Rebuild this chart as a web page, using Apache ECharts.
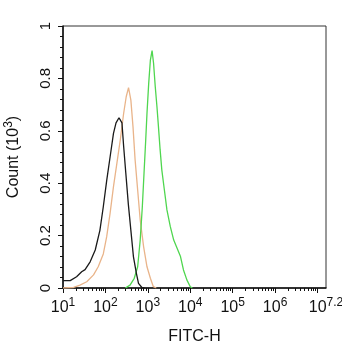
<!DOCTYPE html>
<html>
<head>
<meta charset="utf-8">
<script src="https://cdn.jsdelivr.net/npm/echarts@6/dist/echarts.min.js"></script>
<style>
  html, body { margin: 0; padding: 0; background: #ffffff; }
  #chart { width: 342px; height: 350px; }
</style>
</head>
<body>
<div id="chart"></div>
<script>
// x values are log10(FITC-H), y values are count (10^3)
var blackExp = [1.0, 1.17, 1.32, 1.44, 1.52, 1.64, 1.76, 1.87, 1.95, 2.03, 2.11, 2.19, 2.25, 2.32, 2.39, 2.43, 2.48, 2.54, 2.60, 2.66, 2.73, 2.78, 2.86, 2.92];
var blackCount = [0.028, 0.028, 0.043, 0.062, 0.07, 0.10, 0.145, 0.22, 0.31, 0.41, 0.50, 0.59, 0.63, 0.65, 0.63, 0.54, 0.44, 0.32, 0.22, 0.12, 0.056, 0.018, 0.002, 0];

var orangeExp = [1.0, 1.25, 1.40, 1.56, 1.72, 1.83, 1.95, 2.03, 2.11, 2.19, 2.27, 2.35, 2.43, 2.49, 2.545, 2.60, 2.65, 2.70, 2.76, 2.82, 2.90, 2.98, 3.06, 3.13, 3.2];
var orangeCount = [0, 0.002, 0.011, 0.024, 0.05, 0.081, 0.13, 0.196, 0.285, 0.387, 0.476, 0.565, 0.667, 0.73, 0.765, 0.717, 0.616, 0.489, 0.374, 0.26, 0.158, 0.081, 0.037, 0.005, 0];

var greenExp = [2.47, 2.58, 2.68, 2.76, 2.82, 2.87, 2.91, 2.95, 2.98, 3.02, 3.06, 3.10, 3.135, 3.175, 3.215, 3.25, 3.29, 3.33, 3.39, 3.45, 3.53, 3.61, 3.69, 3.77, 3.84, 3.92, 4.0, 4.05];
var greenCount = [0, 0.011, 0.037, 0.081, 0.183, 0.31, 0.438, 0.565, 0.667, 0.78, 0.87, 0.906, 0.858, 0.768, 0.692, 0.616, 0.527, 0.45, 0.374, 0.298, 0.234, 0.183, 0.152, 0.12, 0.069, 0.031, 0.005, 0];

var majorTicks = [1, 2, 3, 4, 5, 6, 7];
var labelTicks = [1, 2, 3, 4, 5, 6, 7.2];
var minorTicks = [];
for (var d = 1; d <= 7; d++) {
  for (var k = 2; k <= 9; k++) {
    var v = d + Math.log10(k);
    if (v < 7.2) minorTicks.push(v);
  }
}

function pairs(xs, ys) {
  return xs.map(function (x, i) { return [x, ys[i]]; });
}

var font = 'Liberation Sans';
var chart = echarts.init(document.getElementById('chart'));
chart.setOption({
  animation: false,
  grid: {
    left: 63, top: 26, right: 16, bottom: 62,
    outerBoundsMode: 'none',
    show: true, borderColor: '#333', borderWidth: 1
  },
  xAxis: [
    {
      type: 'value', min: 1, max: 7.2,
      name: 'FITC-H', nameLocation: 'middle', nameGap: 41,
      nameTextStyle: { fontFamily: font, fontSize: 16, color: '#111' },
      axisLine: { show: true, lineStyle: { color: '#111', width: 1.5 } },
      axisTick: { show: true, length: 5, lineStyle: { color: '#111' }, customValues: majorTicks },
      axisLabel: {
        customValues: labelTicks, margin: 9,
        fontFamily: font, fontSize: 16, color: '#111',
        formatter: function (v) { return '{b|10}{s|' + (Math.round(v * 10) / 10) + '}'; },
        rich: {
          b: { fontFamily: font, fontSize: 16, color: '#111', lineHeight: 19, verticalAlign: 'bottom' },
          s: { fontFamily: font, fontSize: 12, color: '#111', lineHeight: 19, verticalAlign: 'top' }
        }
      },
      splitLine: { show: false }
    },
    {
      type: 'value', min: 1, max: 7.2, gridIndex: 0, position: 'bottom',
      axisLine: { show: false },
      axisTick: { show: true, length: 3, lineStyle: { color: '#111' }, customValues: minorTicks },
      axisLabel: { show: false },
      splitLine: { show: false }
    }
  ],
  yAxis: {
    type: 'value', min: 0, max: 1, interval: 0.2,
    name: 'Count (10{s|3})', nameLocation: 'middle', nameGap: 38, nameRotate: 90,
    nameTextStyle: {
      fontFamily: font, fontSize: 16, color: '#111',
      rich: {
        s: { fontFamily: font, fontSize: 12, color: '#111', padding: [0, 0, 10, 0] }
      }
    },
    axisLine: { show: true, lineStyle: { color: '#111', width: 1.5 } },
    axisTick: { show: true, length: 5, lineStyle: { color: '#111' } },
    minorTick: { show: true, splitNumber: 5, length: 3, lineStyle: { color: '#111' } },
    axisLabel: { rotate: 90, margin: 10, fontFamily: font, fontSize: 15, color: '#111' },
    splitLine: { show: false }
  },
  series: [
    {
      name: 'control', type: 'line', data: pairs(blackExp, blackCount),
      showSymbol: false, lineStyle: { color: '#1a1a1a', width: 1.3 }, z: 4
    },
    {
      name: 'isotype', type: 'line', data: pairs(orangeExp, orangeCount),
      showSymbol: false, lineStyle: { color: '#e9b48a', width: 1.3 }, z: 3
    },
    {
      name: 'antibody', type: 'line', data: pairs(greenExp, greenCount),
      showSymbol: false, lineStyle: { color: '#4fd64f', width: 1.3 }, z: 3
    }
  ]
});
</script>
</body>
</html>
